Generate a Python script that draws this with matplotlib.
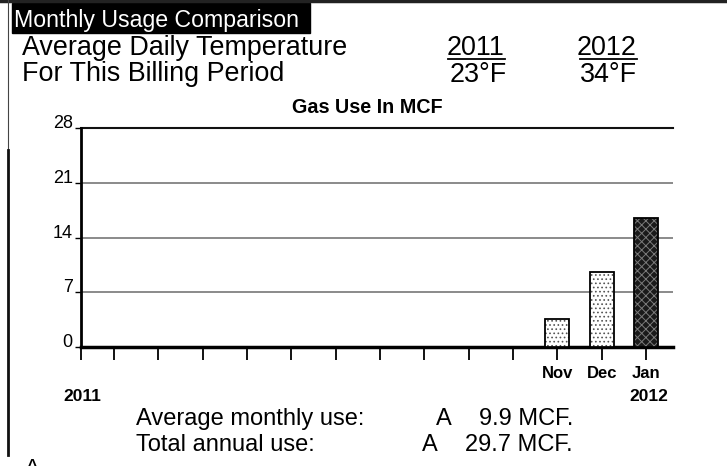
import matplotlib
matplotlib.use('Agg')
import matplotlib.pyplot as plt
from matplotlib.lines import Line2D
from matplotlib.patches import Rectangle

plt.rcParams['font.family'] = ['Liberation Sans', 'DejaVu Sans']
plt.rcParams['hatch.linewidth'] = 0.7

# data
months = ['Jan', 'Feb', 'Mar', 'Apr', 'May', 'Jun', 'Jul',
          'Aug', 'Sep', 'Oct', 'Nov', 'Dec', 'Jan']
shown_labels = ['', '', '', '', '', '', '', '', '', '', 'Nov', 'Dec', 'Jan']
usage = [0, 0, 0, 0, 0, 0, 0, 0, 0, 0, 3.6, 9.6, 16.5]
yticks = [0, 7, 14, 21, 28]
temp_years = ['2011', '2012']
temps = ['23°F', '34°F']
avg_use = 9.9
total_use = 29.7

W, H = 727, 466
fig = plt.figure(figsize=(W / 100, H / 100), dpi=100)


def fx(x):
    return x / W


def fy(y):
    return 1 - y / H


# frame lines
fig.add_artist(Line2D([0, 1], [fy(1), fy(1)], color='#222222', lw=2.5))
fig.add_artist(Line2D([fx(7.5), fx(7.5)], [fy(0), fy(150)], color='#444444', lw=0.8))
fig.add_artist(Line2D([fx(7.5), fx(7.5)], [fy(150), fy(455)], color='#111111', lw=2.0))

# title box
fig.add_artist(Rectangle((fx(12), fy(33)), fx(298), 30 / H, color='black'))
fig.text(fx(14), fy(27), 'Monthly Usage Comparison', color='white',
         fontsize=16.7, va='baseline', ha='left')

# temperature block
fig.text(fx(22), fy(55), 'Average Daily Temperature', fontsize=19.4, va='baseline')
fig.text(fx(22), fy(81), 'For This Billing Period', fontsize=19.4, va='baseline')
year_right = [505, 637]
temp_right = [507, 637]
for yr, t, xr, xt in zip(temp_years, temps, year_right, temp_right):
    fig.text(fx(xr), fy(55), yr, fontsize=19.4, va='baseline', ha='right')
    fig.add_artist(Line2D([fx(xr - 57), fx(xr)], [fy(59), fy(59)], color='black', lw=1.3))
    fig.text(fx(xt), fy(82), t, fontsize=19.4, va='baseline', ha='right')

# chart
ax = fig.add_axes([fx(81), fy(347), fx(673 - 81), (347 - 128) / H])
x = list(range(len(months)))
for i, v in enumerate(usage):
    if v <= 0:
        continue
    if i == len(usage) - 1:
        fc, hc, hatch = '#1a1a1a', '#7a7a7a', 'xxxx'
    else:
        fc, hc, hatch = 'white', '#555555', '....'
    ax.bar(x[i], v, width=0.54, color=fc, edgecolor=hc, hatch=hatch, lw=0, zorder=3)
    ax.bar(x[i], v, width=0.54, fill=False, edgecolor='black', lw=1.3, zorder=4)

ax.set_xlim(-0.744, 12.61)
ax.set_ylim(0, 28)
for v in yticks[1:-1]:
    ax.axhline(v, color='#777777', lw=1.2, zorder=1)
ax.axhline(28, color='#111111', lw=1.5, zorder=1, clip_on=False)

ax.set_yticks(yticks)
ax.set_yticklabels([str(v) for v in yticks], fontsize=13)
for lab in ax.get_yticklabels():
    lab.set_va('baseline')
ax.tick_params(axis='y', length=4, width=1, pad=2)

ax.set_xticks([-0.744] + x)
ax.set_xticklabels([''] + shown_labels, fontsize=12, fontweight='bold')
ax.tick_params(axis='x', length=9, width=1.3, pad=5, direction='out')

for s in ['top', 'right']:
    ax.spines[s].set_visible(False)
ax.spines['left'].set_linewidth(2)
ax.spines['bottom'].set_linewidth(2.5)

fig.text(fx(367), fy(113), 'Gas Use In MCF', fontsize=14.2, fontweight='bold',
         ha='center', va='baseline')
fig.text(fx(63), fy(401), '2011', fontsize=12.5, fontweight='bold', va='baseline')
fig.text(fx(668), fy(401), '2012', fontsize=12.5, fontweight='bold', va='baseline', ha='right')

# summary
fig.text(fx(136), fy(425), 'Average monthly use:', fontsize=17, va='baseline')
fig.text(fx(136), fy(451), 'Total annual use:', fontsize=17, va='baseline')
fig.text(fx(436), fy(425), 'A', fontsize=17, va='baseline')
fig.text(fx(422), fy(451), 'A', fontsize=17, va='baseline')
fig.text(fx(573), fy(425), f'{avg_use} MCF.', fontsize=17, va='baseline', ha='right')
fig.text(fx(573), fy(451), f'{total_use} MCF.', fontsize=17, va='baseline', ha='right')
fig.text(fx(25), fy(474), 'A', fontsize=16, va='baseline')

fig.savefig('out.png', dpi=100)
